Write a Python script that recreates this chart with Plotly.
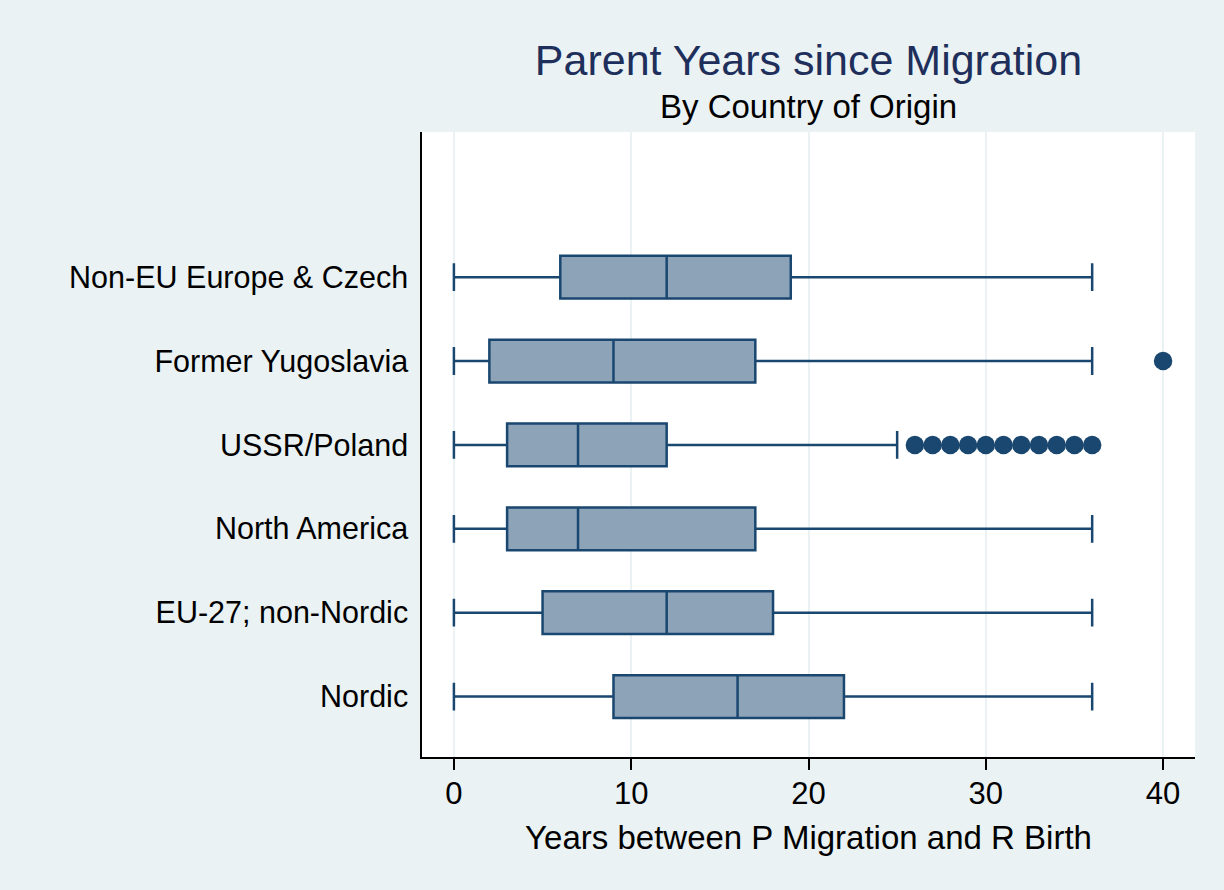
import plotly.graph_objects as go

# Country-of-origin groups, bottom to top
groups = ["Nordic", "EU-27; non-Nordic", "North America", "USSR/Poland",
          "Former Yugoslavia", "Non-EU Europe & Czech"]

# Box statistics (years between parent migration and respondent birth)
lower_whisker = [0, 0, 0, 0, 0, 0]
q1 = [9, 5, 3, 3, 2, 6]
median = [16, 12, 7, 7, 9, 12]
q3 = [22, 18, 17, 12, 17, 19]
upper_whisker = [36, 36, 36, 25, 36, 36]

# Outside values
outlier_group = ["USSR/Poland"] * 11 + ["Former Yugoslavia"]
outlier_value = [26, 27, 28, 29, 30, 31, 32, 33, 34, 35, 36, 40]

x_ticks = [0, 10, 20, 30, 40]

NAVY = "#1a476f"
FILL = "#8da3b8"
BG = "#eaf2f3"
FONT = "Liberation Sans, Arial, Helvetica, sans-serif"

fig = go.Figure()

fig.add_trace(go.Box(
    y=groups,
    q1=q1,
    median=median,
    q3=q3,
    lowerfence=lower_whisker,
    upperfence=upper_whisker,
    orientation="h",
    boxpoints=False,
    fillcolor=FILL,
    line=dict(color=NAVY, width=2.5),
    width=0.51,
    whiskerwidth=0.65,
    showlegend=False,
    hoverinfo="skip",
))

fig.add_trace(go.Scatter(
    x=outlier_value,
    y=outlier_group,
    mode="markers",
    marker=dict(color=NAVY, size=18.5, line=dict(width=0)),
    showlegend=False,
    hoverinfo="skip",
))

fig.update_layout(
    width=1224,
    height=890,
    paper_bgcolor=BG,
    plot_bgcolor="white",
    margin=dict(l=422, r=29, t=132, b=133),
    font=dict(family=FONT, color="black"),
    title=dict(
        text="Parent Years since Migration",
        font=dict(family=FONT, size=43, color="#1f2f5c"),
        x=0.5, xanchor="center", xref="paper",
        y=1 - 60 / 890, yanchor="middle",
    ),
    annotations=[dict(
        text="By Country of Origin",
        xref="paper", yref="paper",
        x=0.5, y=1 + (132 - 107) / (890 - 132 - 133),
        xanchor="center", yanchor="middle",
        showarrow=False,
        font=dict(family=FONT, size=33, color="black"),
    )],
)

fig.update_xaxes(
    range=[-1.8, 41.8],
    tickvals=x_ticks,
    ticktext=[str(v) for v in x_ticks],
    ticks="outside",
    ticklen=11,
    tickwidth=1.5,
    tickcolor="black",
    ticklabelstandoff=-3,
    tickfont=dict(size=31, family=FONT),
    showgrid=True,
    gridcolor=BG,
    gridwidth=2,
    zeroline=False,
    showline=True,
    linecolor="black",
    linewidth=1.5,
    title=dict(text="Years between P Migration and R Birth",
               font=dict(size=33, family=FONT), standoff=16),
)

fig.update_yaxes(
    type="category",
    categoryorder="array",
    categoryarray=groups,
    range=[-0.72, 6.73],
    ticks="",
    ticklen=0,
    ticklabelstandoff=6,
    tickfont=dict(size=30.5, family=FONT),
    showgrid=False,
    zeroline=False,
    showline=True,
    linecolor="black",
    linewidth=1.5,
)

fig.write_html("out.html")
